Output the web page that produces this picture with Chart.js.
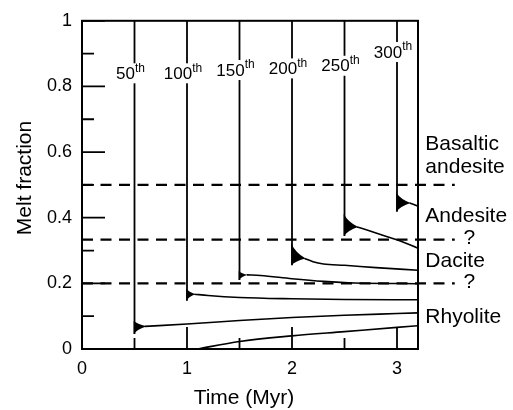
<!DOCTYPE html>
<html>
<head>
<meta charset="utf-8">
<script src="https://cdn.jsdelivr.net/npm/chart.js@4/dist/chart.umd.min.js"></script>
<style>
  html, body { margin: 0; padding: 0; background: #fff; }
  #c { display: block; }
</style>
</head>
<body>
<canvas id="c" width="513" height="410"></canvas>
<script>
// Sill injections: ordinal number and time of emplacement (Myr)
const ordinals = ['50', '100', '150', '200', '250', '300'];
const injectionTimes = [0.5, 1, 1.5, 2, 2.5, 3];
const ordinalLabelLevel = [0.84, 0.84, 0.85, 0.855, 0.863, 0.905];

// Cusp at the foot of each injection line (melt fraction range and tail tip)
const cuspTop = [0.085, 0.184, 0.238, 0.322, 0.412, 0.477];
const cuspBottom = [0.046, 0.147, 0.21, 0.255, 0.344, 0.418];
const cuspTipTime = [0.62, 1.08, 1.58, 2.13, 2.63, 3.13];
const cuspTipMelt = [0.069, 0.167, 0.226, 0.276, 0.372, 0.445];

// Melt fraction paths after each injection
const path50Time = [0.6, 1.0, 1.5, 2.0, 2.5, 3.0, 3.2];
const path50Melt = [0.069, 0.076, 0.087, 0.096, 0.103, 0.108, 0.11];
const path100Time = [1.07, 1.2, 1.5, 2.0, 2.5, 3.2];
const path100Melt = [0.167, 0.163, 0.157, 0.153, 0.151, 0.15];
const path150Time = [1.57, 1.7, 2.0, 2.3, 2.6, 3.2];
const path150Melt = [0.226, 0.224, 0.214, 0.206, 0.201, 0.199];
const path200Time = [2.12, 2.2, 2.3, 2.5, 2.8, 3.2];
const path200Melt = [0.276, 0.266, 0.259, 0.255, 0.248, 0.24];
const path250Time = [2.62, 2.7, 2.9, 3.0, 3.2];
const path250Melt = [0.372, 0.364, 0.343, 0.333, 0.307];
const path300Time = [3.12, 3.2];
const path300Melt = [0.445, 0.435];
const basePathTime = [1.1, 1.5, 2.0, 2.5, 3.0, 3.2];
const basePathMelt = [0, 0.023, 0.04, 0.053, 0.066, 0.071];

// Composition boundaries and labels
const boundaryLevels = [0.5, 1 / 3, 0.2];
const boundaryEnd = 3.55;
const rockLabels = ['Basaltic', 'andesite', 'Andesite', 'Dacite', 'Rhyolite'];
const rockLabelLevel = [0.624, 0.555, 0.406, 0.266, 0.096];
const queryLevels = [1 / 3, 0.2];

// Axis ticks
const xMajorTicks = [0, 1, 2, 3];
const xMinorTicks = [0.5, 1.5, 2.5];
const yMajorTicks = [0, 0.2, 0.4, 0.6, 0.8, 1];
const yMinorTicks = [0.1, 0.3, 0.5, 0.7, 0.9];

const FONT = '"Liberation Sans", Arial, Helvetica, sans-serif';

function zip(xs, ys) { return xs.map((x, i) => ({ x: x, y: ys[i] })); }

const lineStyle = {
  showLine: true, pointRadius: 0, borderColor: '#000', backgroundColor: '#000',
  borderWidth: 1.6, fill: false, cubicInterpolationMode: 'monotone'
};

const datasets = [];
injectionTimes.forEach((t, i) => {
  datasets.push(Object.assign({}, lineStyle, {
    label: ordinals[i] + 'th', borderWidth: 1.8,
    data: [{ x: t, y: 1 }, { x: t, y: cuspBottom[i] }]
  }));
});
[[path50Time, path50Melt], [path100Time, path100Melt], [path150Time, path150Melt],
 [path200Time, path200Melt], [path250Time, path250Melt], [path300Time, path300Melt],
 [basePathTime, basePathMelt]].forEach(([t, m]) => {
  datasets.push(Object.assign({}, lineStyle, { data: zip(t, m) }));
});

const decorations = {
  id: 'decorations',
  afterDatasetsDraw(chart) {
    const ctx = chart.ctx;
    const xs = chart.scales.x, ys = chart.scales.y;
    const px = v => xs.getPixelForValue(v);
    const py = v => ys.getPixelForValue(v);
    const area = chart.chartArea;
    ctx.save();
    ctx.strokeStyle = '#000';
    ctx.fillStyle = '#000';

    // cusps at the foot of each injection line
    injectionTimes.forEach((t, i) => {
      const x0 = px(t) - 0.8, yt = py(cuspTop[i]), yb = py(cuspBottom[i]);
      const xt = px(cuspTipTime[i]), yTip = py(cuspTipMelt[i]);
      const dx = xt - x0;
      ctx.beginPath();
      ctx.moveTo(x0, yt);
      ctx.quadraticCurveTo(x0 + dx * 0.3, yt + (yTip - yt) * 0.65, xt, yTip);
      ctx.quadraticCurveTo(x0 + dx * 0.3, yb + (yTip - yb) * 0.65, x0, yb);
      ctx.closePath();
      ctx.fill();
    });

    // frame
    ctx.lineWidth = 2;
    ctx.strokeRect(area.left, area.top, area.right - area.left, area.bottom - area.top);

    // inward ticks
    ctx.lineWidth = 1.8;
    ctx.beginPath();
    yMajorTicks.forEach(v => { ctx.moveTo(area.left, py(v)); ctx.lineTo(area.left + 23, py(v)); });
    yMinorTicks.forEach(v => { ctx.moveTo(area.left, py(v)); ctx.lineTo(area.left + 12, py(v)); });
    xMajorTicks.forEach(v => { ctx.moveTo(px(v), area.bottom); ctx.lineTo(px(v), area.bottom - 22); });
    xMinorTicks.forEach(v => { ctx.moveTo(px(v), area.bottom); ctx.lineTo(px(v), area.bottom - 11); });
    ctx.stroke();

    // composition boundaries
    ctx.lineWidth = 2.2;
    ctx.setLineDash([11, 7.5]);
    ctx.beginPath();
    boundaryLevels.forEach(v => { ctx.moveTo(px(0), py(v)); ctx.lineTo(px(boundaryEnd), py(v)); });
    ctx.stroke();
    ctx.setLineDash([]);

    // ordinal labels over the injection lines
    ctx.textBaseline = 'middle';
    ctx.textAlign = 'left';
    injectionTimes.forEach((t, i) => {
      ctx.font = '17px ' + FONT;
      const wNum = ctx.measureText(ordinals[i]).width;
      ctx.font = '12px ' + FONT;
      const wSup = ctx.measureText('th').width;
      const w = wNum + wSup;
      const cx = px(t) - 4, cy = py(ordinalLabelLevel[i]);
      ctx.fillStyle = '#fff';
      ctx.fillRect(cx - w / 2 - 1, cy - 10, w + 2, 20);
      ctx.fillStyle = '#000';
      ctx.font = '17px ' + FONT;
      ctx.fillText(ordinals[i], cx - w / 2, cy + 1);
      ctx.font = '12px ' + FONT;
      ctx.fillText('th', cx - w / 2 + wNum, cy - 5);
    });

    // rock names and query marks
    ctx.font = '21px ' + FONT;
    rockLabels.forEach((s, i) => ctx.fillText(s, px(3.27), py(rockLabelLevel[i])));
    ctx.textAlign = 'center';
    queryLevels.forEach(v => ctx.fillText('?', px(3.69), py(v) - 1));

    // axis titles
    ctx.fillText('Time (Myr)', 244, 398);
    ctx.translate(25, 178);
    ctx.rotate(-Math.PI / 2);
    ctx.fillText('Melt fraction', 0, 0);
    ctx.restore();
  }
};

new Chart(document.getElementById('c'), {
  type: 'scatter',
  data: { datasets: datasets },
  options: {
    responsive: false,
    animation: false,
    layout: { padding: { top: 14, right: 95, left: 0, bottom: 0 } },
    plugins: { legend: { display: false }, tooltip: { enabled: false } },
    scales: {
      x: {
        type: 'linear', min: 0, max: 3.2,
        afterBuildTicks: s => { s.ticks = xMajorTicks.map(v => ({ value: v })); },
        afterFit: s => { s.height = 61; },
        grid: { display: false, drawTicks: false },
        border: { display: false },
        ticks: { color: '#000', font: { family: FONT, size: 18 }, padding: 9, maxRotation: 0,
                 callback: v => String(v) }
      },
      y: {
        type: 'linear', min: 0, max: 1,
        afterBuildTicks: s => { s.ticks = yMajorTicks.map(v => ({ value: v })); },
        afterFit: s => { s.width = 82; },
        grid: { display: false, drawTicks: false },
        border: { display: false },
        ticks: { color: '#000', font: { family: FONT, size: 18 }, padding: 10,
                 callback: v => String(v) }
      }
    }
  },
  plugins: [decorations]
});
</script>
</body>
</html>
